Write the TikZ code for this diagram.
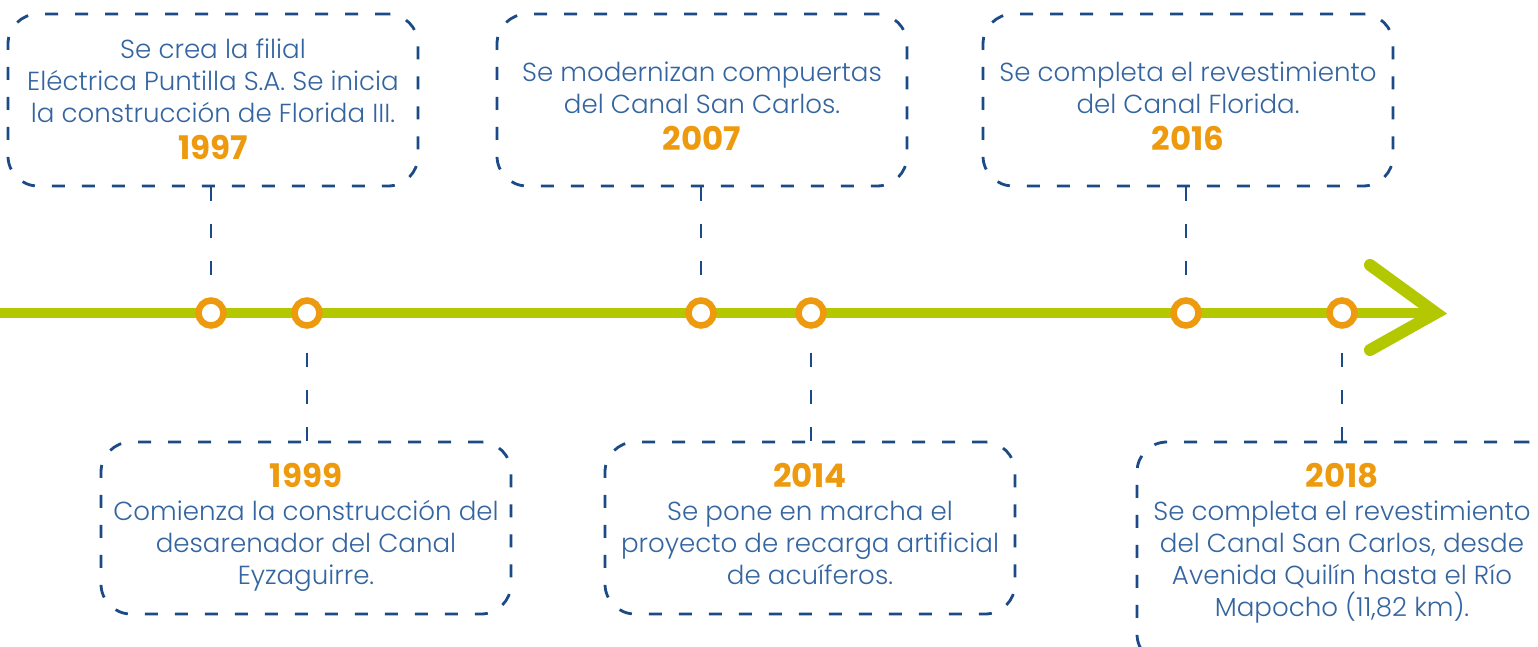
\documentclass[tikz,border=0pt]{standalone}
\usepackage{fontspec}
\setmainfont{Poppins}[UprightFont=*-Light,BoldFont=*-Bold]
\definecolor{dblue}{HTML}{1B4A86}
\definecolor{tblue}{HTML}{3465A0}
\definecolor{orng}{HTML}{EE9A0E}
\definecolor{grn}{HTML}{B3C800}
\tikzset{
  box/.style={draw=dblue,line width=2.8pt,rounded corners=30pt,dash pattern=on 13pt off 17pt,minimum width=410pt,minimum height=172pt,inner sep=0pt},
  conn/.style={draw=dblue,line width=2.8pt,dash pattern=on 14pt off 23pt},
  dot/.style={circle,draw=orng,fill=white,line width=6.5pt,minimum size=25pt,inner sep=0pt},
  txt/.style={anchor=base,inner sep=0pt,text=tblue,font=\fontsize{26.1}{30}\selectfont},
  yr/.style={anchor=base,inner sep=0pt,text=orng,font=\bfseries\fontsize{32.5}{30}\selectfont},
  gline/.style={draw=grn,line width=10pt},
  ghead/.style={draw=grn,line width=12pt,line cap=round,line join=miter}
}
\begin{document}
\begin{tikzpicture}[x=1pt,y=-1pt]
\clip (0,0) rectangle (1538,647);
\fill[white] (0,0) rectangle (1538,647);
% timeline
\coordinate (ls) at (-10,313);
\coordinate (le) at (1436,313);
\coordinate (ha) at (1370,265);
\coordinate (hb) at (1370,350);
\draw[gline] (ls) -- (le);
\draw[ghead] (ha) -- (le) -- (hb);
% boxes
\node[box] (b1) at (213,100) {};
\node[box] (b2) at (702,100) {};
\node[box] (b3) at (1188,100) {};
\node[box] (b4) at (306,528) {};
\node[box] (b5) at (810,528) {};
\node[box,minimum width=420pt,minimum height=222pt] (b6) at (1347,553) {};
% dots
\node[dot] (c1) at (211,313) {};
\node[dot] (c2) at (307,313) {};
\node[dot] (c3) at (701,313) {};
\node[dot] (c4) at (811,313) {};
\node[dot] (c5) at (1186,313) {};
\node[dot] (c6) at (1342,313) {};
% connectors
\draw[conn,shorten >=4pt] (b1.south -| c1) -- (c1.north);
\draw[conn,shorten >=4pt] (b2.south -| c3) -- (c3.north);
\draw[conn,shorten >=4pt] (b3.south -| c5) -- (c5.north);
\draw[conn,shorten >=4pt] (b4.north -| c2) -- (c2.south);
\draw[conn,shorten >=4pt] (b5.north -| c4) -- (c4.south);
\draw[conn,shorten >=4pt] (b6.north -| c6) -- (c6.south);
% texts box 1
\node[txt] (t11) at (213,59) {Se crea la filial};
\node[txt] (t12) at (213,91) {Eléctrica Puntilla S.A. Se inicia};
\node[txt] (t13) at (213,123) {la construcción de Florida III.};
\node[yr] (y1) at (213,160) {1997};
% box 2
\node[txt] (t21) at (702,82) {Se modernizan compuertas};
\node[txt] (t22) at (702,114) {del Canal San Carlos.};
\node[yr] (y2) at (702,151) {2007};
% box 3
\node[txt] (t31) at (1188,82) {Se completa el revestimiento};
\node[txt] (t32) at (1188,114) {del Canal Florida.};
\node[yr] (y3) at (1188,151) {2016};
% box 4
\node[yr] (y4) at (306,487) {1999};
\node[txt] (t41) at (306,520) {Comienza la construcción del};
\node[txt] (t42) at (306,552) {desarenador del Canal};
\node[txt] (t43) at (306,584) {Eyzaguirre.};
% box 5
\node[yr] (y5) at (810,487) {2014};
\node[txt] (t51) at (810,520) {Se pone en marcha el};
\node[txt] (t52) at (810,552) {proyecto de recarga artificial};
\node[txt] (t53) at (810,584) {de acuíferos.};
% box 6
\node[yr] (y6) at (1342,487) {2018};
\node[txt] (t61) at (1342,520) {Se completa el revestimiento};
\node[txt] (t62) at (1342,552) {del Canal San Carlos, desde};
\node[txt] (t63) at (1342,584) {Avenida Quilín hasta el Río};
\node[txt] (t64) at (1342,616) {Mapocho (11,82 km).};
\end{tikzpicture}
\end{document}
